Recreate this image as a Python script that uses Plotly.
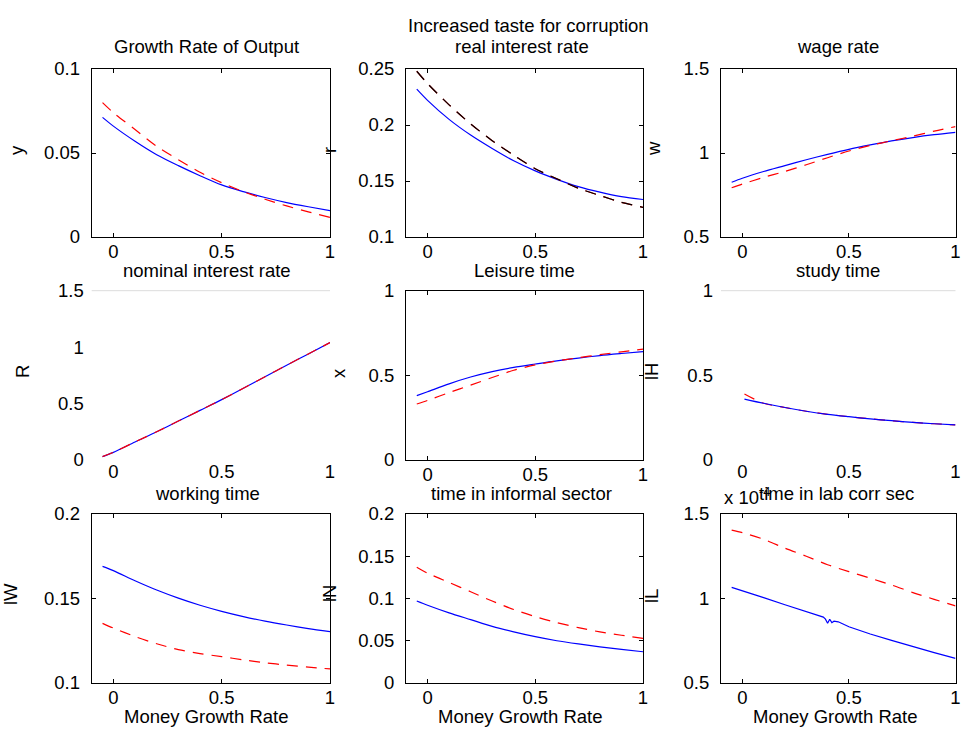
import plotly.graph_objects as go

# ---------------- data ----------------
mgr = [-0.05, 0.0, 0.1, 0.2, 0.3, 0.4, 0.5, 0.6, 0.7, 0.8, 0.9, 1.0]

growth_blue = [0.0712, 0.066, 0.057, 0.049, 0.0425, 0.0365, 0.031, 0.027, 0.0235, 0.0205, 0.018, 0.0157]
growth_red = [0.080, 0.074, 0.064, 0.054, 0.046, 0.0385, 0.0323, 0.027, 0.0225, 0.0185, 0.015, 0.0117]

rint_blue = [0.232, 0.222, 0.205, 0.191, 0.179, 0.168, 0.159, 0.1515, 0.145, 0.140, 0.136, 0.1335]
rint_red = [0.248, 0.237, 0.218, 0.201, 0.186, 0.173, 0.161, 0.152, 0.1435, 0.137, 0.131, 0.1265]
rint_black = [0.248, 0.237, 0.218, 0.201, 0.186, 0.173, 0.161, 0.152, 0.1435, 0.137, 0.131, 0.1265]

wage_blue = [0.826, 0.85, 0.89, 0.925, 0.96, 0.992, 1.022, 1.048, 1.072, 1.092, 1.109, 1.123]
wage_red = [0.793, 0.815, 0.855, 0.89, 0.93, 0.972, 1.012, 1.045, 1.073, 1.10, 1.13, 1.157]

nom_blue = [0.03, 0.068, 0.16, 0.25, 0.345, 0.44, 0.535, 0.635, 0.738, 0.84, 0.94, 1.04]
nom_red = [0.03, 0.068, 0.16, 0.25, 0.345, 0.44, 0.535, 0.635, 0.738, 0.84, 0.94, 1.04]

leis_blue = [0.38, 0.403, 0.450, 0.490, 0.522, 0.547, 0.567, 0.586, 0.602, 0.617, 0.629, 0.64]
leis_red = [0.331, 0.352, 0.398, 0.442, 0.487, 0.530, 0.562, 0.585, 0.604, 0.622, 0.639, 0.655]

mgr_study = [0.01, 0.1, 0.2, 0.3, 0.4, 0.5, 0.6, 0.7, 0.8, 0.9, 1.0]
study_blue = [0.36, 0.335, 0.31, 0.288, 0.27, 0.256, 0.243, 0.232, 0.222, 0.214, 0.207]
study_red = [0.39, 0.335, 0.31, 0.288, 0.27, 0.256, 0.243, 0.232, 0.222, 0.214, 0.207]

work_blue = [0.169, 0.1665, 0.1605, 0.155, 0.1502, 0.146, 0.1424, 0.1393, 0.1366, 0.1343, 0.1322, 0.1304]
work_red = [0.1353, 0.1325, 0.1275, 0.1232, 0.1198, 0.1174, 0.1156, 0.1137, 0.1120, 0.1106, 0.1094, 0.1083]

inf_blue = [0.097, 0.092, 0.083, 0.075, 0.067, 0.0605, 0.0548, 0.050, 0.0462, 0.0428, 0.0398, 0.037]
inf_red = [0.137, 0.130, 0.119, 0.108, 0.097, 0.087, 0.0785, 0.0715, 0.0655, 0.0605, 0.0565, 0.0529]

mgr_lab_blue = [-0.05, 0.0, 0.1, 0.2, 0.3, 0.38, 0.39, 0.40, 0.41, 0.42, 0.43, 0.45, 0.5, 0.6, 0.7, 0.8, 0.9, 1.0]
lab_blue = [1.066e-4, 1.047e-4, 1.005e-4, 0.963e-4, 0.922e-4, 0.890e-4, 0.878e-4, 0.853e-4, 0.877e-4,
            0.857e-4, 0.866e-4, 0.862e-4, 0.833e-4, 0.790e-4, 0.752e-4, 0.715e-4, 0.680e-4, 0.646e-4]
lab_red = [1.405e-4, 1.39e-4, 1.35e-4, 1.298e-4, 1.25e-4, 1.20e-4, 1.159e-4, 1.12e-4, 1.08e-4, 1.035e-4, 0.995e-4, 0.956e-4]

x_ticks = [0, 0.5, 1]
x_ticktext = ["0", "0.5", "1"]

# ---------------- layout helpers ----------------
W, H = 961, 729
FONT = "Liberation Sans, Arial, Helvetica, sans-serif"
FS = 18.5

def px(v):
    return v / W

def py(v):
    return 1 - v / H

cols = [(91.7, 330.0), (406.0, 643.0), (721.0, 955.5)]
rows = [(69.0, 237.0), (290.7, 460.0), (514.0, 683.0)]

panels = [
    dict(yr=[0, 0.1], yt=[0, 0.05, 0.1], ytt=["0", "0.05", "0.1"], box=True),
    dict(yr=[0.1, 0.25], yt=[0.1, 0.15, 0.2, 0.25], ytt=["0.1", "0.15", "0.2", "0.25"], box=True),
    dict(yr=[0.5, 1.5], yt=[0.5, 1, 1.5], ytt=["0.5", "1", "1.5"], box=True),
    dict(yr=[0, 1.5], yt=[0, 0.5, 1, 1.5], ytt=["0", "0.5", "1", "1.5"], box=False),
    dict(yr=[0, 1], yt=[0, 0.5, 1], ytt=["0", "0.5", "1"], box=True),
    dict(yr=[0, 1], yt=[0, 0.5, 1], ytt=["0", "0.5", "1"], box=False),
    dict(yr=[0.1, 0.2], yt=[0.1, 0.15, 0.2], ytt=["0.1", "0.15", "0.2"], box=True),
    dict(yr=[0, 0.2], yt=[0, 0.05, 0.1, 0.15, 0.2], ytt=["0", "0.05", "0.1", "0.15", "0.2"], box=True),
    dict(yr=[0.5e-4, 1.5e-4], yt=[0.5e-4, 1e-4, 1.5e-4], ytt=["0.5", "1", "1.5"], box=True),
]

fig = go.Figure()

BLUE = "#0000ff"
RED = "#ff0000"
DASH = "11px,8px"

def add(i, x, y, color, dash=None, smooth=True):
    n = "" if i == 0 else str(i + 1)
    line = dict(color=color, width=1.2, dash=dash or "solid")
    if smooth:
        line.update(shape="spline", smoothing=0.8)
    fig.add_trace(go.Scatter(
        x=x, y=y, mode="lines", xaxis="x" + n, yaxis="y" + n,
        line=line, showlegend=False, hoverinfo="skip"))

add(0, mgr, growth_blue, BLUE)
add(0, mgr, growth_red, RED, DASH)
add(1, mgr, rint_blue, BLUE)
add(1, mgr, rint_red, RED, DASH)
add(1, mgr, rint_black, "#000000", DASH)
add(2, mgr, wage_blue, BLUE)
add(2, mgr, wage_red, RED, DASH)
add(3, mgr, nom_blue, BLUE)
add(3, mgr, nom_red, RED, DASH)
add(4, mgr, leis_blue, BLUE)
add(4, mgr, leis_red, RED, DASH)
add(5, mgr_study, study_red, RED, DASH)
add(5, mgr_study, study_blue, BLUE)
add(6, mgr, work_blue, BLUE)
add(6, mgr, work_red, RED, DASH)
add(7, mgr, inf_blue, BLUE)
add(7, mgr, inf_red, RED, DASH)
add(8, mgr_lab_blue, lab_blue, BLUE, smooth=False)
add(8, mgr, lab_red, RED, DASH)

layout = dict(
    width=W, height=H, autosize=False,
    margin=dict(l=0, r=0, t=0, b=0, pad=0, autoexpand=False),
    paper_bgcolor="white", plot_bgcolor="white",
    font=dict(family=FONT, size=FS, color="#000000"),
    showlegend=False,
)
shapes = []
for i, p in enumerate(panels):
    r, c = divmod(i, 3)
    n = "" if i == 0 else str(i + 1)
    x0, x1 = cols[c]
    y0, y1 = rows[r]
    box = p["box"]
    common = dict(
        showgrid=False, zeroline=False, automargin=False,
        showline=box, linecolor="#000000", linewidth=1,
        mirror="ticks" if box else False,
        ticks="inside" if box else "", ticklen=4, tickcolor="#000000", tickwidth=1,
        tickfont=dict(family=FONT, size=FS, color="#000000"),
    )
    layout["xaxis" + n] = dict(
        domain=[px(x0), px(x1)], anchor="y" + n, range=[-0.1, 1.0],
        tickmode="array", tickvals=x_ticks, ticktext=x_ticktext, ticklabelstandoff=-2,
        **common)
    layout["yaxis" + n] = dict(
        domain=[py(y1), py(y0)], anchor="x" + n, range=p["yr"],
        tickmode="array", tickvals=p["yt"], ticktext=p["ytt"], ticklabelstandoff=7,
        **common)
    if not box:
        shapes.append(dict(type="line", xref="paper", yref="paper",
                           x0=px(x0), x1=px(x1), y0=py(y0), y1=py(y0),
                           line=dict(color="#dcdcdc", width=1)))
layout["shapes"] = shapes
fig.update_layout(**layout)

def ann(text, x, y, angle=0, xanchor="center", size=FS):
    fig.add_annotation(text=text, x=px(x), y=py(y), xref="paper", yref="paper",
                       showarrow=False, textangle=angle, xanchor=xanchor, yanchor="middle",
                       font=dict(family=FONT, size=size, color="#000000"))

# titles
ann("Growth Rate of Output", 206, 46)
ann("Increased taste for corruption", 528, 26)
ann("real interest rate", 522, 46)
ann("wage rate", 838, 46)
ann("nominal interest rate", 207, 270)
ann("Leisure time", 524, 270)
ann("study time", 838, 270)
ann("working time", 207, 493)
ann("time in informal sector", 521, 493)
ann("time in lab corr sec", 836, 493)

# x labels
for xc in (206, 520, 835):
    ann("Money Growth Rate", xc, 716)

# y labels
ann("y", 17, 150, -90)
ann("r", 330, 150, -90)
ann("w", 653, 149, -90)
ann("R", 22, 372, -90)
ann("x", 338, 373, -90)
ann("lH", 651, 372, -90)
ann("lW", 10, 594, -90)
ann("lN", 329, 594, -90)
ann("lL", 651, 596, -90)

# exponent label
ann("x 10<sup>-4</sup>", 722, 496, 0, xanchor="left")

fig.write_html("out.html")
